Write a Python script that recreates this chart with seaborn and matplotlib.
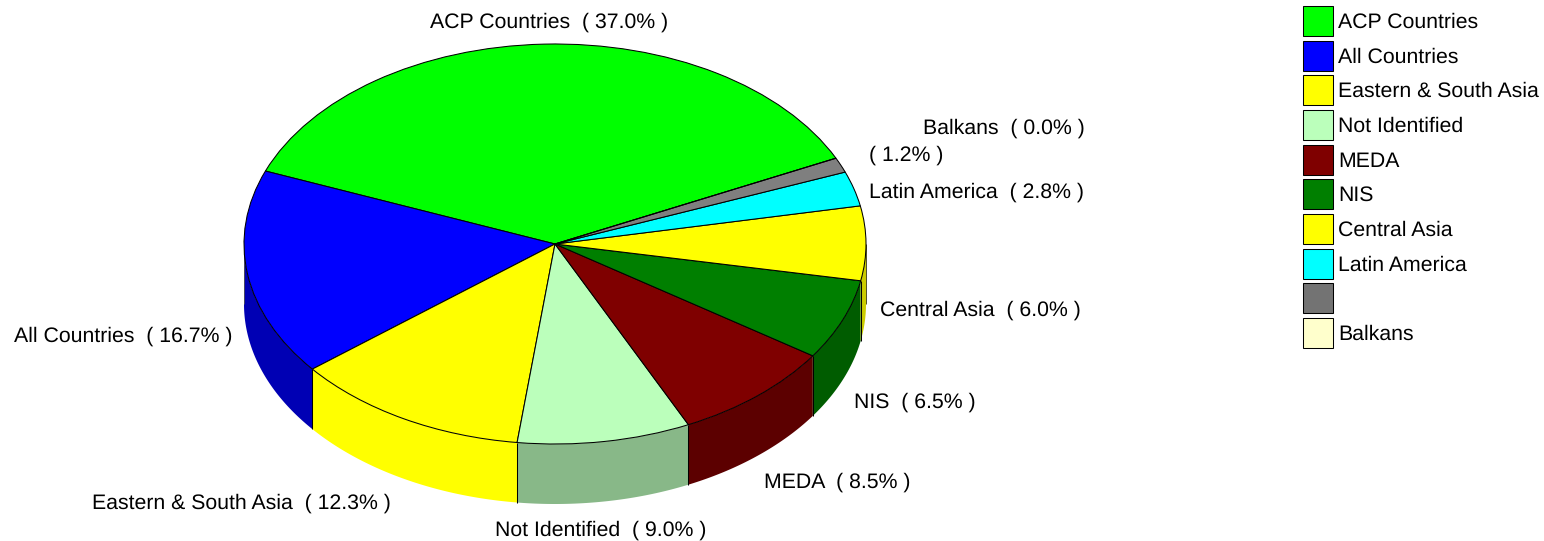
import numpy as np
import matplotlib
matplotlib.use('Agg')
import matplotlib.pyplot as plt
import seaborn as sns

categories = ['ACP Countries', 'All Countries', 'Eastern & South Asia', 'Not Identified', 'MEDA',
              'NIS', 'Central Asia', 'Latin America', '', 'Balkans']
shares = [37.0, 16.7, 12.3, 9.0, 8.5, 6.5, 6.0, 2.8, 1.2, 0.0]
colors = ['#00ff00', '#0000ff', '#ffff00', '#bbffbb', '#7f0000',
          '#007f00', '#ffff00', '#00ffff', '#7f7f7f', '#ffffcc']
side_colors = ['#00b400', '#0000b4', '#ffff00', '#88b888', '#5c0000',
               '#005c00', '#cccc00', '#00b4b4', '#5c5c5c', '#b4b490']
legend_grey = '#737373'

# where the labels sit, in pixels (left edge, middle)
label_pos = [(430, 22), (14, 336), (92, 503), (495, 530), (764, 482),
             (854, 402), (880, 310), (869, 192), (869, 155), (923, 128)]

W, H = 1544, 541
CX, CY = 555, 244     # pie centre
RX, RY = 311, 200     # top ellipse radii
DEPTH = 60 / RY       # thickness in axes units
START = 25.4
FONT = 15.35

sns.set_theme(style='white')
plt.rcParams['font.family'] = ['Liberation Sans', 'DejaVu Sans']
plt.rcParams['text.hinting'] = 'none'

fig = plt.figure(figsize=(W / 100, H / 100), dpi=100)
ax = fig.add_axes([0, 0, 1, 1])

wedges, _ = ax.pie(shares, colors=colors, startangle=START, counterclock=True,
                   wedgeprops={'edgecolor': 'black', 'linewidth': 0.75, 'zorder': 3})

# pie() forces a round aspect, the stretch gives the tilted look
ax.set_aspect('auto')
ax.set_xlim(-CX / RX, (W - CX) / RX)
ax.set_ylim(-(H - CY) / RY, CY / RY)
ax.axis('off')

# side wall, only the part of each slice facing front
edges = START + np.cumsum([0] + shares) * 3.6
for i in range(len(shares)):
    a = max(edges[i], 180)
    b = min(edges[i + 1], 360)
    if b <= a:
        continue
    t = np.radians(np.linspace(a, b, 80))
    xs = np.cos(t)
    ys = np.sin(t)
    ax.fill(np.r_[xs, xs[::-1]], np.r_[ys, ys[::-1] - DEPTH], color=side_colors[i], lw=0, zorder=1)

for e in edges:
    e = e % 360
    if 180 < e < 355:
        x = np.cos(np.radians(e))
        y = np.sin(np.radians(e))
        ax.plot([x, x], [y, y - DEPTH], color='black', lw=0.75, zorder=2, solid_capstyle='butt')

# thin lines on the far left and right of the wall
ax.plot([-1, -1], [0, -DEPTH], color='#555555', lw=0.6, zorder=2, solid_capstyle='butt')
ax.plot([1, 1], [0, -DEPTH], color='#333300', lw=0.6, zorder=2, solid_capstyle='butt')

for name, val, (px, py) in zip(categories, shares, label_pos):
    txt = f'{name}  ( {val:.1f}% )' if name else f'( {val:.1f}% )'
    fig.text(px / W, 1 - py / H, txt, ha='left', va='center', fontsize=FONT, color='black')

# legend has a slightly darker grey swatch than the slice
handles = [plt.Rectangle((0, 0), 1, 1, facecolor=legend_grey if c == '' else col,
                         edgecolor='black', linewidth=0.75)
           for c, col in zip(categories, colors)]
fig.legend(handles, categories, loc='upper left', bbox_to_anchor=(1303 / W, 1 - 6 / H),
           frameon=False, fontsize=FONT, labelcolor='black', handlelength=1.41, handleheight=1.79,
           labelspacing=0.217, handletextpad=0.235, borderpad=0, borderaxespad=0)

fig.savefig('out.png', dpi=100)
